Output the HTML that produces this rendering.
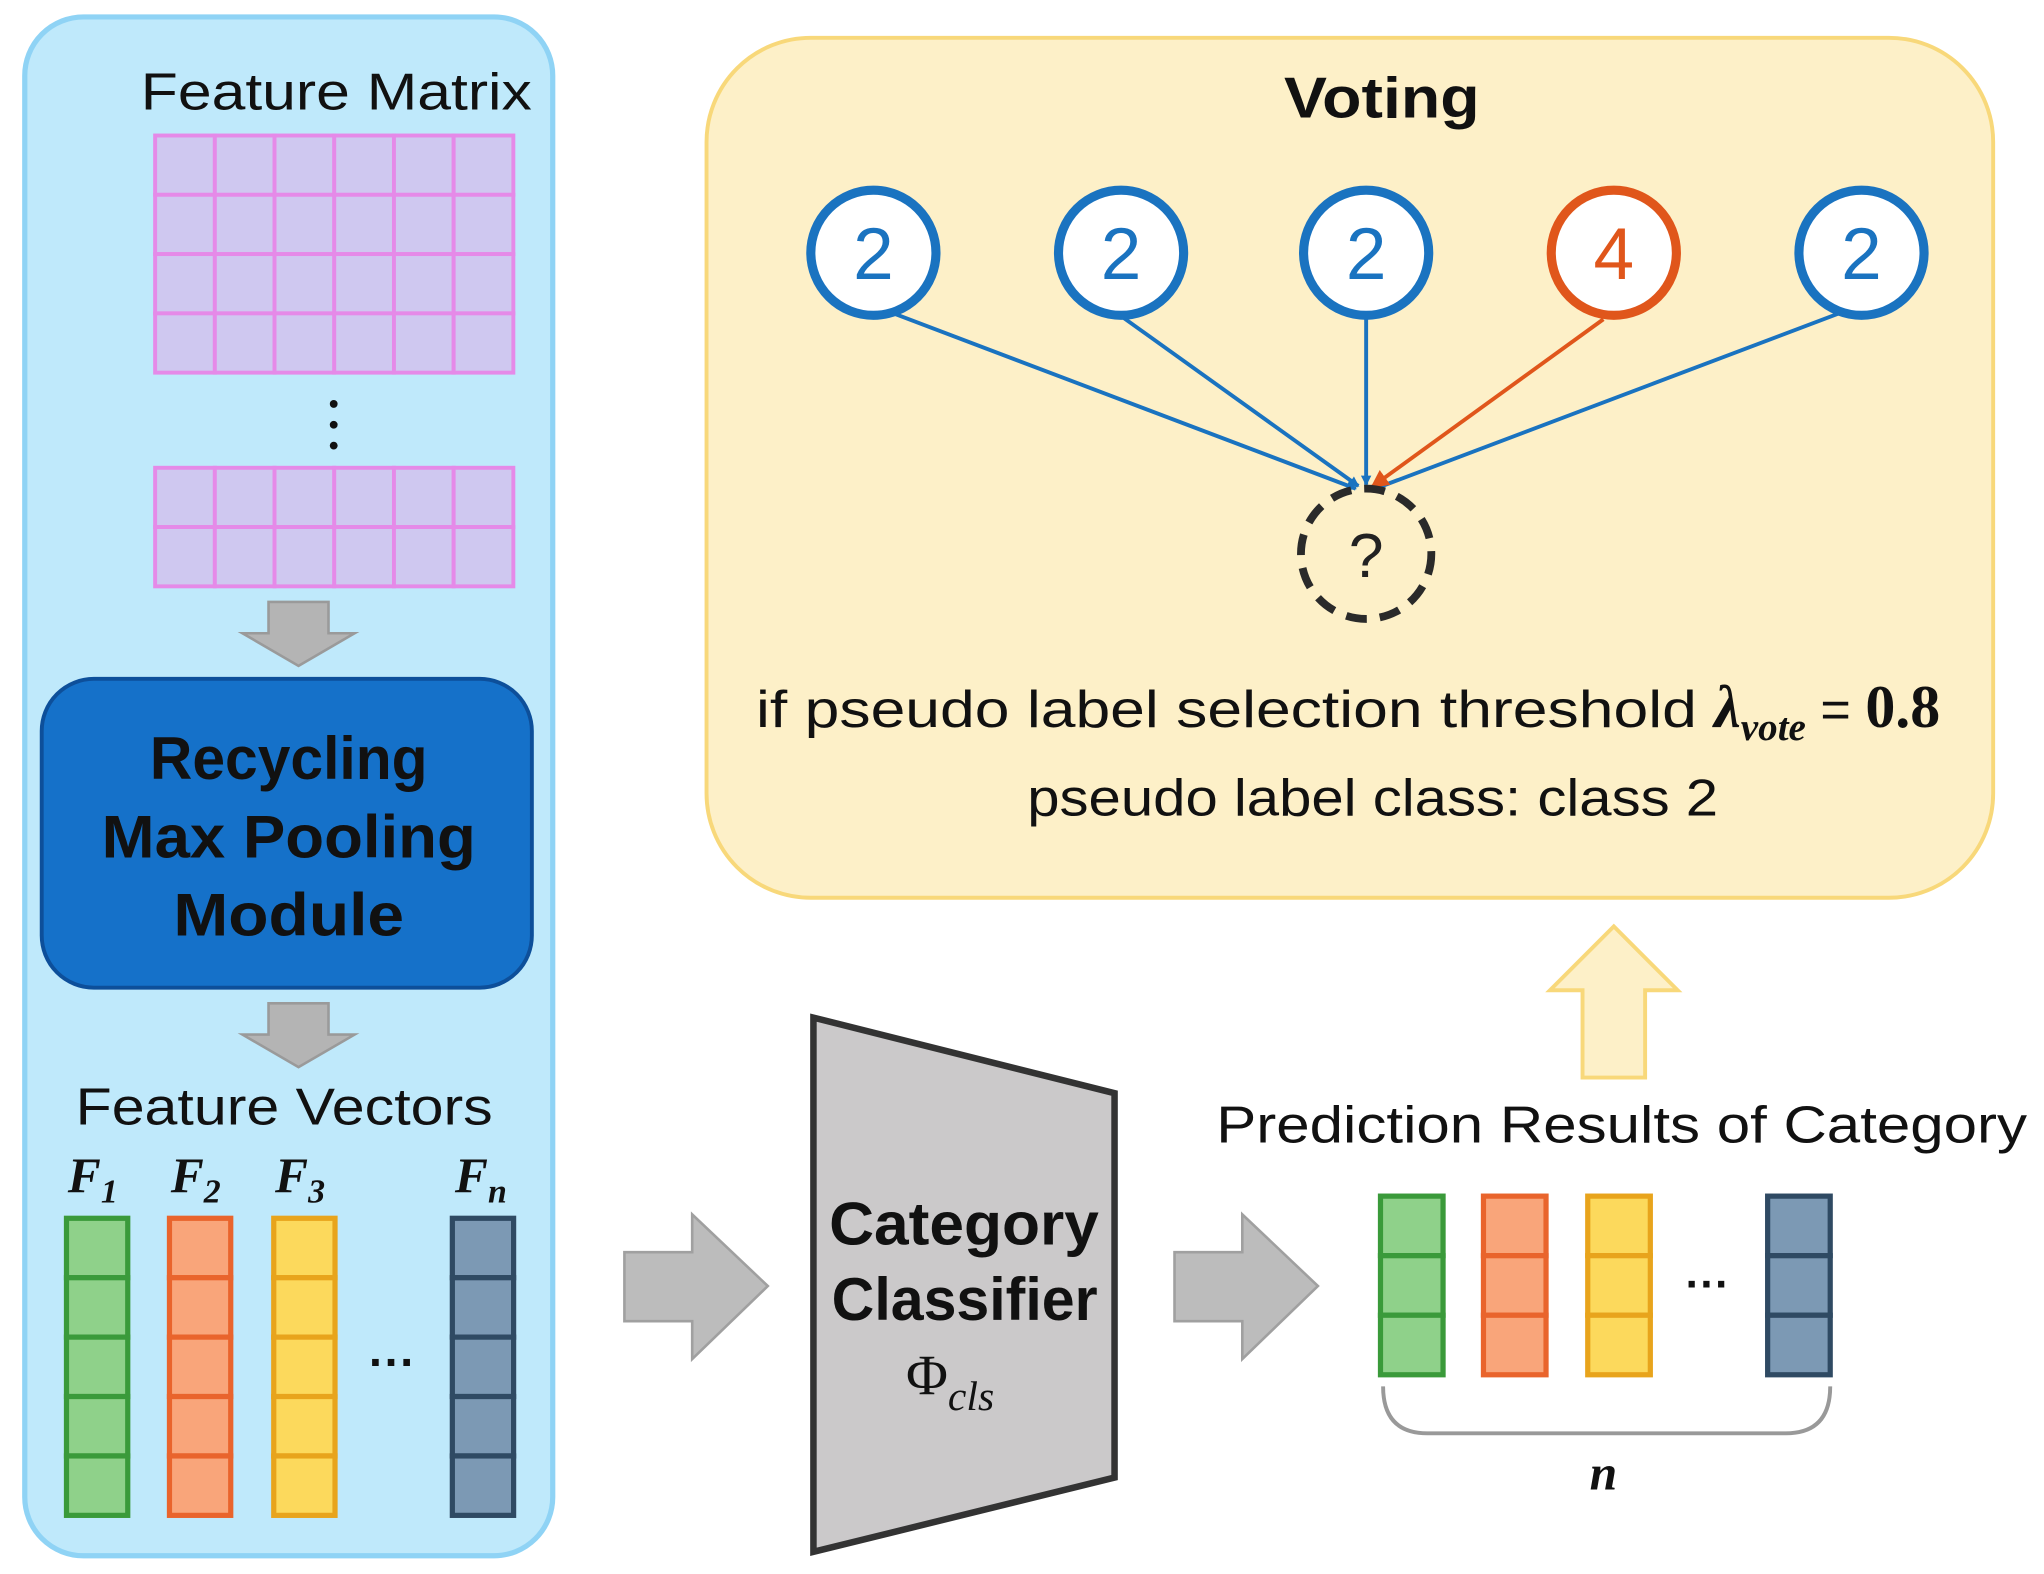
<!DOCTYPE html>
<html><head><meta charset="utf-8">
<style>
html,body{margin:0;padding:0;background:#fff;}
svg{display:block;}
text{font-family:"Liberation Sans",sans-serif;}
</style></head>
<body>
<svg width="2044" height="1574" viewBox="0 0 1568 1208" preserveAspectRatio="none" xmlns="http://www.w3.org/2000/svg">
<defs>
<marker id="ab" markerWidth="8" markerHeight="8" refX="7" refY="4" orient="auto" markerUnits="userSpaceOnUse"><path d="M0,0 L8,4 L0,8 z" fill="#1a73c0"/></marker>
<marker id="ao" markerWidth="14" markerHeight="14" refX="13" refY="7" orient="auto" markerUnits="userSpaceOnUse"><path d="M0,0 L14,7 L0,14 z" fill="#e0561b"/></marker>
</defs>
<rect x="19" y="13" width="405" height="1181" rx="45" fill="#bfe9fb" stroke="#8fd3f5" stroke-width="4"/>
<text x="108" y="84" font-size="40" textLength="300" lengthAdjust="spacingAndGlyphs" fill="#111">Feature Matrix</text>
<g fill="#cfc8f0" stroke="#e58ae8" stroke-width="3">
<g id="row">
<rect x="119" y="104" width="45.8" height="45.5"/><rect x="164.8" y="104" width="45.8" height="45.5"/><rect x="210.6" y="104" width="45.8" height="45.5"/><rect x="256.4" y="104" width="45.8" height="45.5"/><rect x="302.2" y="104" width="45.8" height="45.5"/><rect x="348" y="104" width="45.8" height="45.5"/>
</g>
<use href="#row" y="45.5"/><use href="#row" y="91"/><use href="#row" y="136.5"/>
<use href="#row" y="255"/><use href="#row" y="300.5"/>
</g>
<circle cx="256" cy="310" r="3" fill="#111"/><circle cx="256" cy="326" r="3" fill="#111"/><circle cx="256" cy="342" r="3" fill="#111"/>
<path d="M206,462 H252 V486 H272 L229,511 L186,486 H206 Z" fill="#b4b4b4" stroke="#9a9a9a" stroke-width="2"/>
<rect x="32" y="521" width="376" height="237" rx="40" fill="#1571c9" stroke="#0d4f9a" stroke-width="3"/>
<g font-size="46" font-weight="bold" fill="#111">
<text x="115" y="598" textLength="213" lengthAdjust="spacingAndGlyphs">Recycling</text><text x="78" y="658" textLength="287" lengthAdjust="spacingAndGlyphs">Max Pooling</text><text x="133" y="718" textLength="177" lengthAdjust="spacingAndGlyphs">Module</text>
</g>
<path d="M206,770 H252 V794 H272 L229,819 L186,794 H206 Z" fill="#b4b4b4" stroke="#9a9a9a" stroke-width="2"/>
<text x="58" y="863" font-size="40" textLength="320" lengthAdjust="spacingAndGlyphs" fill="#111">Feature Vectors</text>
<g font-style="italic" font-weight="bold" font-size="38" fill="#111">
<text x="52" y="915" style="font-family:'Liberation Serif',serif">F<tspan font-size="26" dy="8">1</tspan></text>
<text x="131" y="915" style="font-family:'Liberation Serif',serif">F<tspan font-size="26" dy="8">2</tspan></text>
<text x="211" y="915" style="font-family:'Liberation Serif',serif">F<tspan font-size="26" dy="8">3</tspan></text>
<text x="349" y="915" style="font-family:'Liberation Serif',serif">F<tspan font-size="26" dy="8">n</tspan></text>
</g>
<g stroke-width="4">
<g fill="#8fd18a" stroke="#3a9a3a"><rect x="51" y="935" width="47" height="45.6"/><rect x="51" y="980.6" width="47" height="45.6"/><rect x="51" y="1026.2" width="47" height="45.6"/><rect x="51" y="1071.8" width="47" height="45.6"/><rect x="51" y="1117.4" width="47" height="45.6"/></g>
<g fill="#f9a57a" stroke="#e9642c"><rect x="130" y="935" width="47" height="45.6"/><rect x="130" y="980.6" width="47" height="45.6"/><rect x="130" y="1026.2" width="47" height="45.6"/><rect x="130" y="1071.8" width="47" height="45.6"/><rect x="130" y="1117.4" width="47" height="45.6"/></g>
<g fill="#fcd95c" stroke="#e8a41c"><rect x="210" y="935" width="47" height="45.6"/><rect x="210" y="980.6" width="47" height="45.6"/><rect x="210" y="1026.2" width="47" height="45.6"/><rect x="210" y="1071.8" width="47" height="45.6"/><rect x="210" y="1117.4" width="47" height="45.6"/></g>
<g fill="#7c99b4" stroke="#2f4a63"><rect x="347" y="935" width="47" height="45.6"/><rect x="347" y="980.6" width="47" height="45.6"/><rect x="347" y="1026.2" width="47" height="45.6"/><rect x="347" y="1071.8" width="47" height="45.6"/><rect x="347" y="1117.4" width="47" height="45.6"/></g>
</g>
<text x="301" y="1058" font-size="36" font-weight="bold" text-anchor="middle" fill="#111">···</text>
<path d="M479,961 H531 V932 L589,987 L531,1043 V1014 H479 Z" fill="#bcbcbc" stroke="#a0a0a0" stroke-width="2"/>
<path d="M901,961 H953 V932 L1011,987 L953,1043 V1014 H901 Z" fill="#bcbcbc" stroke="#a0a0a0" stroke-width="2"/>
<path d="M624,781 L855,839 V1134 L624,1191 Z" fill="#cbc9ca" stroke="#333" stroke-width="5"/>
<g font-size="46" font-weight="bold" fill="#111">
<text x="636" y="955" textLength="207" lengthAdjust="spacingAndGlyphs">Category</text><text x="638" y="1013" textLength="204" lengthAdjust="spacingAndGlyphs">Classifier</text>
</g>
<text x="695" y="1070" font-size="44" fill="#111" style="font-family:'Liberation Serif',serif">Φ<tspan font-style="italic" font-size="32" dy="12">cls</tspan></text>
<text x="933" y="877" font-size="40" textLength="622" lengthAdjust="spacingAndGlyphs" fill="#111">Prediction Results of Category</text>
<g stroke-width="4">
<g fill="#8fd18a" stroke="#3a9a3a"><rect x="1059" y="918" width="48" height="45.7"/><rect x="1059" y="963.7" width="48" height="45.7"/><rect x="1059" y="1009.4" width="48" height="45.7"/></g>
<g fill="#f9a57a" stroke="#e9642c"><rect x="1138" y="918" width="48" height="45.7"/><rect x="1138" y="963.7" width="48" height="45.7"/><rect x="1138" y="1009.4" width="48" height="45.7"/></g>
<g fill="#fcd95c" stroke="#e8a41c"><rect x="1218" y="918" width="48" height="45.7"/><rect x="1218" y="963.7" width="48" height="45.7"/><rect x="1218" y="1009.4" width="48" height="45.7"/></g>
<g fill="#7c99b4" stroke="#2f4a63"><rect x="1356" y="918" width="48" height="45.7"/><rect x="1356" y="963.7" width="48" height="45.7"/><rect x="1356" y="1009.4" width="48" height="45.7"/></g>
</g>
<text x="1310" y="997" font-size="34" font-weight="bold" text-anchor="middle" fill="#111">···</text>
<path d="M1061,1064 Q1061,1100 1095,1100 H1370 Q1404,1100 1404,1064" fill="none" stroke="#999" stroke-width="3"/>
<text x="1230" y="1143" font-size="38" font-weight="bold" font-style="italic" text-anchor="middle" fill="#111" style="font-family:'Liberation Serif',serif">n</text>
<path d="M1214,827 V760 H1189 L1238,711 L1287,760 H1262 V827 Z" fill="#fdf0c8" stroke="#f8d87a" stroke-width="3"/>
<rect x="542" y="29" width="987" height="660" rx="80" fill="#fdf0c8" stroke="#f8d87a" stroke-width="3"/>
<text x="985" y="90" font-size="44" font-weight="bold" textLength="150" lengthAdjust="spacingAndGlyphs" fill="#111">Voting</text>
<g stroke-width="3" fill="none">
<line x1="684" y1="240" x2="1040" y2="375" stroke="#1a73c0" marker-end="url(#ab)"/>
<line x1="862" y1="244" x2="1042" y2="373" stroke="#1a73c0" marker-end="url(#ab)"/>
<line x1="1048" y1="244" x2="1048" y2="372" stroke="#1a73c0" marker-end="url(#ab)"/>
<line x1="1420" y1="237" x2="1055" y2="375" stroke="#1a73c0" marker-end="url(#ab)"/>
<line x1="1230" y1="245" x2="1052" y2="374" stroke="#e0561b" marker-end="url(#ao)"/>
</g>
<g stroke-width="7" fill="#fff">
<circle cx="670" cy="194" r="48" stroke="#1a73c0"/>
<circle cx="860" cy="194" r="48" stroke="#1a73c0"/>
<circle cx="1048" cy="194" r="48" stroke="#1a73c0"/>
<circle cx="1238" cy="194" r="48" stroke="#e0561b"/>
<circle cx="1428" cy="194" r="48" stroke="#1a73c0"/>
</g>
<g font-size="56" text-anchor="middle">
<text x="670" y="214" fill="#1a73c0">2</text><text x="860" y="214" fill="#1a73c0">2</text><text x="1048" y="214" fill="#1a73c0">2</text><text x="1238" y="214" fill="#e0561b">4</text><text x="1428" y="214" fill="#1a73c0">2</text>
</g>
<circle cx="1048" cy="425" r="50" fill="none" stroke="#2a2a2a" stroke-width="6" stroke-dasharray="16,10"/>
<text x="1048" y="443" font-size="48" text-anchor="middle" fill="#222">?</text>
<text x="580" y="558" font-size="40" fill="#111"><tspan textLength="735" lengthAdjust="spacingAndGlyphs">if pseudo label selection threshold </tspan><tspan style="font-family:'Liberation Serif',serif" font-style="italic" font-weight="bold" font-size="46">λ</tspan><tspan style="font-family:'Liberation Serif',serif" font-style="italic" font-weight="bold" font-size="30" dy="10">vote</tspan><tspan dy="-10"> = </tspan><tspan style="font-family:'Liberation Serif',serif" font-weight="bold" font-size="46">0.8</tspan></text>
<text x="788" y="626" font-size="40" textLength="530" lengthAdjust="spacingAndGlyphs" fill="#111">pseudo label class: class 2</text>
</svg>
</body></html>
